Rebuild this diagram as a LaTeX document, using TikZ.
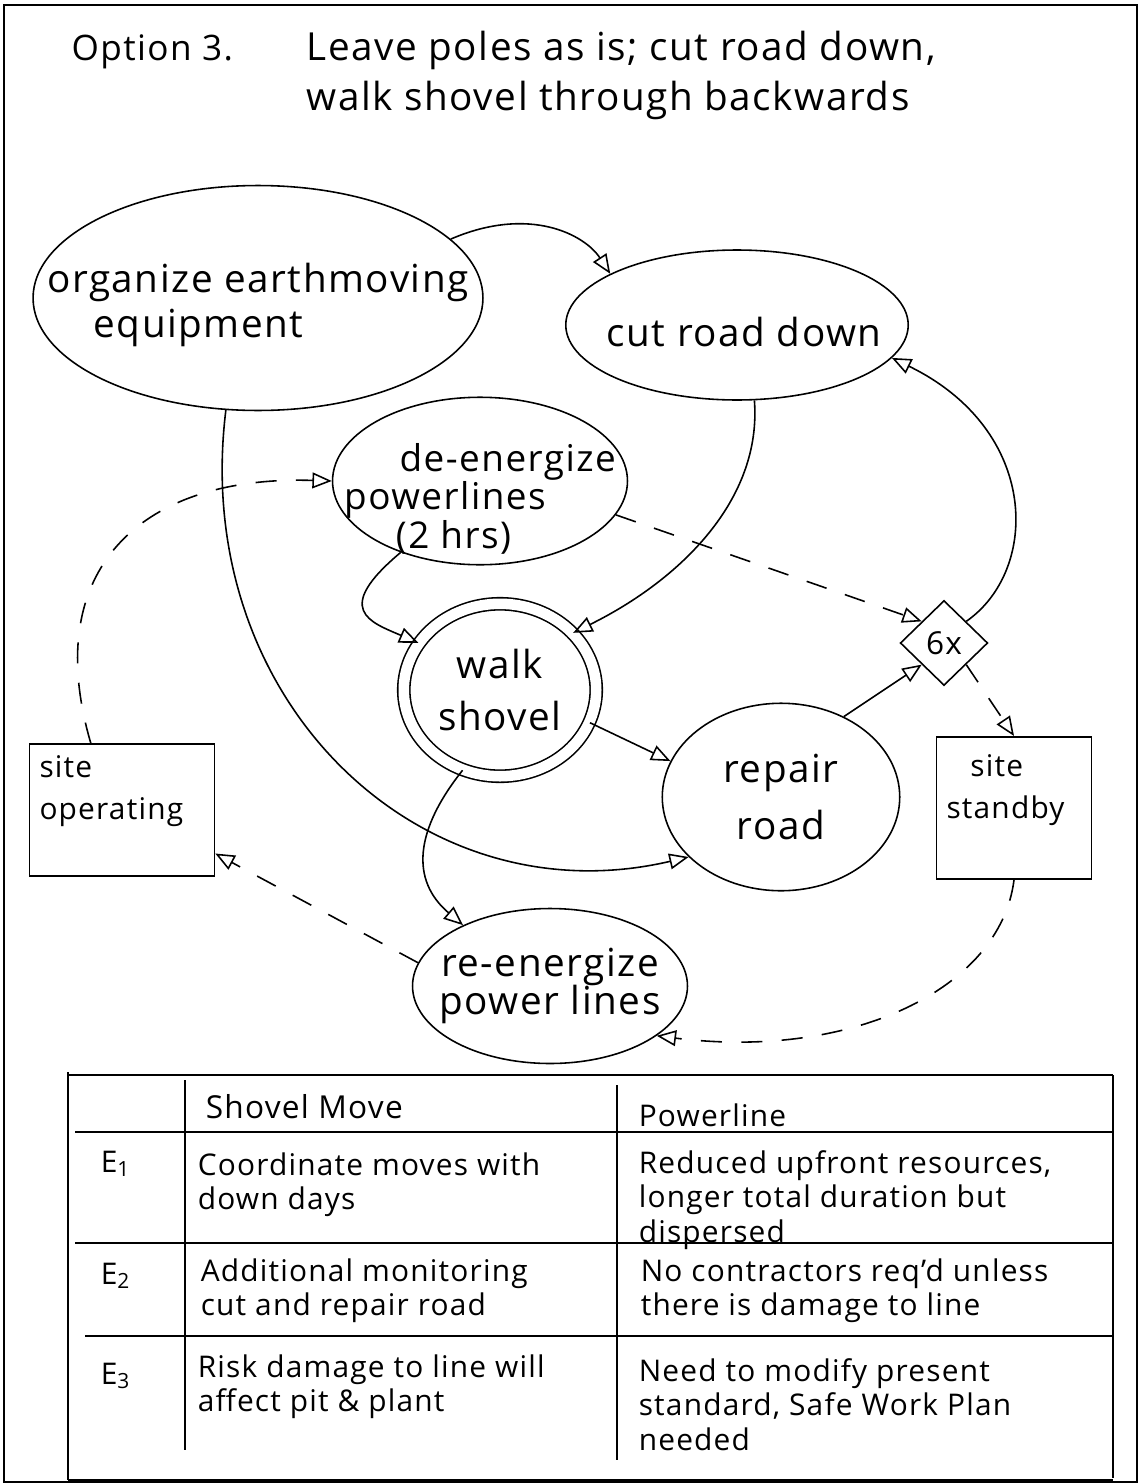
\documentclass[tikz,border=0pt]{standalone}
\usepackage{fontspec}
\setmainfont[LetterSpace=4]{Open Sans}
\usetikzlibrary{shapes.geometric,arrows.meta}

\begin{document}
\begin{tikzpicture}[x=0.02cm, y=-0.02cm, line width=0.9pt,
    bubble/.style={draw, ellipse, inner sep=0pt},
    tag/.style={align=center, inner sep=0pt, font=\fontsize{22}{26}\selectfont},
    sitebox/.style={draw, rectangle, inner ysep=0pt, inner xsep=0.2cm, align=left, font=\fontsize{17}{24}\selectfont},
    flow/.style={-{Triangle[open,length=11pt,width=9pt]}},
    signal/.style={flow, dash pattern=on 12pt off 11pt},
    cell/.style={anchor=north west, inner sep=0pt, align=left, font=\fontsize{17}{19.5}\selectfont}]
    \useasboundingbox (0,0) rectangle (1140,1484);
    \draw[line width=1.6pt] (4,5) rectangle (1137,1482);

    % title
    \node[anchor=base west, font=\fontsize{20}{25}\selectfont] (option) at (65,60) {Option 3.};
    \node[anchor=base west, font=\fontsize{22}{25}\selectfont] (title) at (300,60)
    {Leave poles as is; cut road down,};
    \node[anchor=base west, font=\fontsize{22}{25}\selectfont] (subtitle) at (300,110)
    {walk shovel through backwards};

    % activities
    \node[bubble, minimum width=9cm, minimum height=4.5cm,
        label={[tag, align=left, yshift=-4pt]center:organize earthmoving\\\hspace*{1.2em}equipment}]
        (organize) at (258,298) {};
    \node[bubble, minimum width=6.85cm, minimum height=3cm,
        label={[tag, xshift=4pt, yshift=-4pt]center:cut road down}] (cut) at (737,325) {};
    \node[bubble, minimum width=5.9cm, minimum height=3.35cm,
        label={[tag, align=left, yshift=-10pt, font=\fontsize{21}{19}\selectfont]center:\hspace*{1.5em}de-energize\\powerlines\\\hspace*{1.4em}(2 hrs)}]
        (deen) at (480,481) {};
    \node[bubble, double, double distance=6pt, minimum width=3.85cm, minimum height=3.45cm,
        label={[tag, font=\fontsize{22}{30}\selectfont]center:walk\\shovel}] (walk) at (500,690) {};
    \node[bubble, minimum width=4.75cm, minimum height=3.75cm,
        label={[tag, font=\fontsize{22}{32}\selectfont]center:repair\\road}] (repair) at (781,797) {};
    \node[bubble, minimum width=5.5cm, minimum height=3.1cm,
        label={[tag, font=\fontsize{22}{22}\selectfont]center:re-energize\\power lines}]
        (reen) at (550,986) {};
    \node[draw, diamond, inner sep=0pt, minimum width=1.75cm, minimum height=1.7cm,
        font=\fontsize{18}{20}\selectfont] (six) at (944,643) {6x};

    % site states
    \node[sitebox, text width=3.3cm, minimum height=2.65cm] (siteop) at (122,810)
    {site\\operating\\[2pt]~};
    \node[sitebox, text width=2.7cm, minimum height=2.85cm] (sitesb) at (1014,808)
    {\hspace*{0.8em}site\\standby\\~};

    % solid connectors
    \draw[flow] (organize.17) .. controls (530,205) and (585,235) .. (cut.158);
    \draw[flow] (organize.254) .. controls (190,700) and (420,920) .. (repair.213);
    \draw[flow] (cut.283) .. controls (762,500) and (680,580) .. (walk.38);
    \draw[flow] (deen.222) .. controls (332,610) and (370,622) .. (walk.150);
    \draw[flow] (walk.-20) -- (repair.162);
    \draw[flow] (walk.245) .. controls (415,830) and (410,880) .. (reen.145);
    \draw[flow] (repair.52) -- (six.south west);
    \draw[flow] (six.north east) .. controls (1040,570) and (1040,430) .. (cut.-12);

    % dashed connectors
    \draw[signal] (deen.-14) -- (six.north west);
    \draw[signal] (six.south east) -- (sitesb.north);
    \draw[signal] (sitesb.south) .. controls (1000,990) and (850,1060) .. (reen.-25);
    \draw[signal] (reen.170) -- (siteop.-25);
    \draw[signal] (siteop.115) .. controls (40,570) and (140,475) .. (deen.west);

    % table
    \draw (68,1072) -- (68,1480);
    \draw (1113,1075) -- (1113,1478);
    \draw (185,1080) -- (185,1450);
    \draw (617,1085) -- (617,1460);
    \draw (68,1075) -- (1113,1075);
    \draw (75,1132) -- (1113,1132);
    \draw (75,1243) -- (1113,1243);
    \draw (85,1336) -- (1113,1336);
    \draw (68,1480) -- (1113,1480);

    \node[cell, font=\fontsize{18}{20}\selectfont] (hshovel) at (205,1094) {Shovel Move};
    \node[cell] (hpower) at (638,1103) {Powerline};

    \node[cell] (eone) at (100,1150) {E\textsubscript{1}};
    \node[cell] (sone) at (197,1152) {Coordinate moves with\\down days};
    \node[cell] (pone) at (638,1150) {Reduced upfront resources,\\longer total duration but\\dispersed};

    \node[cell] (etwo) at (100,1262) {E\textsubscript{2}};
    \node[cell] (stwo) at (200,1258) {Additional monitoring\\cut and repair road};
    \node[cell] (ptwo) at (640,1258) {No contractors req'd unless\\there is damage to line};

    \node[cell] (ethree) at (100,1362) {E\textsubscript{3}};
    \node[cell] (sthree) at (197,1354) {Risk damage to line will\\affect pit \& plant};
    \node[cell] (pthree) at (638,1358) {Need to modify present\\standard, Safe Work Plan\\needed};
\end{tikzpicture}
\end{document}
